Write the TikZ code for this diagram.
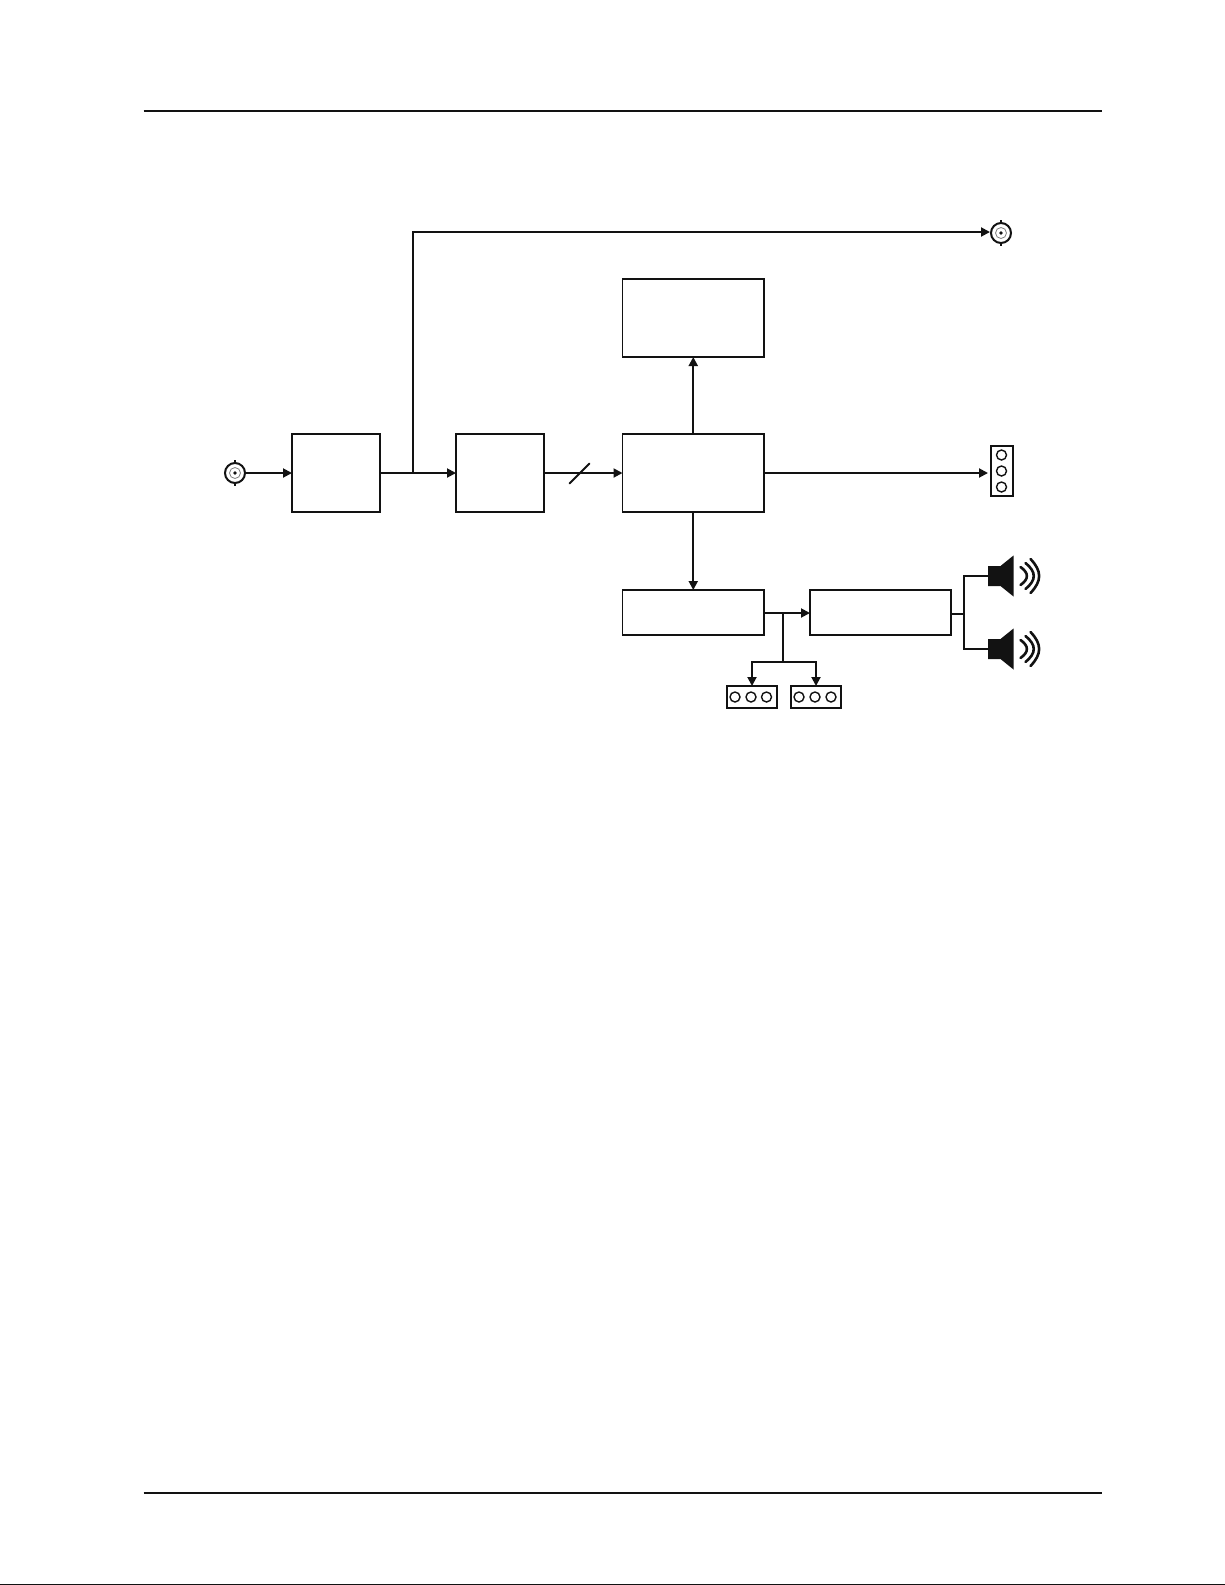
\documentclass[tikz,border=0pt]{standalone}
\usetikzlibrary{arrows.meta}
\definecolor{ink}{gray}{0.07}
\tikzset{
  x=1pt,y=-1pt,
  wire/.style={draw=ink,line width=1.95pt},
  arr/.style={wire,-{Triangle[length=9pt,width=9pt]}},
  blockbox/.style={draw=ink,line width=1.95pt,inner sep=0pt,outer sep=0pt,fill=white},
  pin/.style={circle,draw=ink,line width=1.4pt,minimum size=10pt,inner sep=0pt,fill=white},
  bnc/.style={circle,draw=ink,line width=2pt,minimum size=20pt,inner sep=0pt,outer sep=0pt,fill=white},
  wave/.style={draw=ink,line width=2.6pt,line cap=round},
}
\newcommand{\mkblock}[5]{\node[blockbox,minimum width=#4pt - #2pt,minimum height=#5pt - #3pt] (#1) at ({(#2+#4)/2},{(#3+#5)/2}) {};}
\newcommand{\mkbnc}[3]{%
  \node[bnc] (#1) at (#2,#3) {};
  \draw[draw=ink,line width=1.4pt] (#2,#3-10) -- (#2,#3-13) (#2,#3+10) -- (#2,#3+13);
  \draw[draw=gray,line width=.8pt] (#2,#3) circle (5.5);
  \fill[ink] (#2,#3) circle (1.8);
}
\newcommand{\mkspeaker}[3]{%
  \node[inner sep=0pt,outer sep=0pt,minimum width=12.5pt,minimum height=20pt] (#1) at (#2+6.25,#3) {};
  \fill[ink] (#2,#3-10) -- (#2+12.5,#3-10) -- (#2+25.5,#3-20.5) -- (#2+25.5,#3+20.5) -- (#2+12.5,#3+10) -- (#2,#3+10) -- cycle;
  \draw[wave] (#2+32.5,#3-9) .. controls (#2+41,#3-3) and (#2+41,#3+3) .. (#2+32.5,#3+9);
  \draw[wave] (#2+37.5,#3-13) .. controls (#2+48.5,#3-4) and (#2+48.5,#3+4) .. (#2+37.5,#3+13);
  \draw[wave] (#2+42.5,#3-17) .. controls (#2+54,#3-5) and (#2+54,#3+5) .. (#2+42.5,#3+17);
}
\begin{document}
\begin{tikzpicture}
\useasboundingbox (0,0) rectangle (1225,1585);
\fill[white] (0,0) rectangle (1225,1585);
% rules
\coordinate (rt1) at (143.5,111); \coordinate (rt2) at (1101.5,111);
\coordinate (rb1) at (143.5,1493); \coordinate (rb2) at (1101.5,1493);
\coordinate (edge1) at (0,1584.3); \coordinate (edge2) at (1225,1584.3);
\draw[wire] (rt1) -- (rt2);
\draw[wire] (rb1) -- (rb2);
\draw[wire,line width=1.4pt] (edge1) -- (edge2);
% blocks
\mkblock{amp}{292}{434}{380}{512}
\mkblock{adc}{456}{434}{544}{512}
\mkblock{dsp}{622.5}{434}{764}{512}
\mkblock{disp}{622.5}{279}{764}{357}
\mkblock{dac}{622.5}{590}{764}{635}
\mkblock{pwr}{810}{590}{951}{635}
% connectors (terminals)
\mkbnc{inbnc}{235}{473}
\mkbnc{outbnc}{1001}{233}
\node[blockbox,minimum width=22.5pt,minimum height=50.5pt] (jackv) at (1002,471) {};
\foreach \i/\yy in {1/455,2/471,3/487} {\node[pin] (jv\i) at (1001.5,\yy) {};}
\node[blockbox,minimum width=50.5pt,minimum height=22pt] (jacka) at (752,697) {};
\foreach \i/\xx in {1/735,2/751,3/766.5} {\node[pin] (ja\i) at (\xx,697) {};}
\node[blockbox,minimum width=50.5pt,minimum height=22pt] (jackb) at (816,697) {};
\foreach \i/\xx in {1/799,2/815,3/831} {\node[pin] (jb\i) at (\xx,697) {};}
\mkspeaker{spka}{988}{576}
\mkspeaker{spkb}{988}{649}
% wiring
\coordinate (tap) at (413,473);
\coordinate (outin) at (990,232);
\coordinate (drop) at (783,613);
\coordinate (fork) at (783,662);
\coordinate (spl) at (964,614);
\coordinate (jvin) at (988,473);
\draw[arr] (inbnc.east) -- (amp.west);
\draw[wire] (amp.east) -- (tap);
\draw[arr] (tap) -- (adc.west);
\draw[arr] (tap) |- (outin);
\draw[arr] (adc.east) -- (dsp.west);
\coordinate (s1) at (569.5,483.5); \coordinate (s2) at (589.5,463.5);
\draw[wire,line cap=round] (s1) -- (s2);
\draw[arr] (dsp.north) -- (disp.south);
\draw[arr] (dsp.south) -- (dac.north);
\draw[arr] (dsp.east) -- (jvin);
\draw[arr] (dac.east |- drop) -- (pwr.west |- drop);
\draw[wire] (drop) -- (fork);
\draw[arr] (fork) -| (jacka.north);
\draw[arr] (fork) -| (jackb.north);
\draw[wire] (pwr.east |- spl) -- (spl);
\draw[wire] (spka.west) -| (spl);
\draw[wire] (spkb.west) -| (spl);
\end{tikzpicture}
\end{document}
